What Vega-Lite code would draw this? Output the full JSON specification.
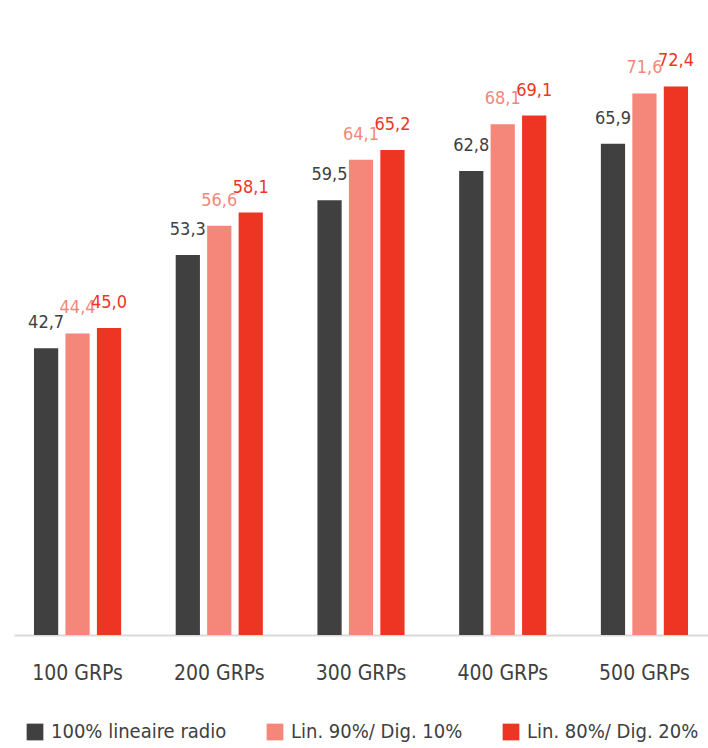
{
  "$schema": "https://vega.github.io/schema/vega-lite/v6.json",
  "width": 694,
  "height": 635,
  "padding": {"left": 14, "top": 0, "right": 0, "bottom": 0},
  "autosize": {"type": "pad"},
  "config": {
    "view": {"stroke": null},
    "font": "DejaVu Sans Condensed",
    "locale": {"number": {"decimal": ",", "thousands": ".", "grouping": [3], "currency": ["€", ""]}}
  },
  "data": {
    "values": [
      {"group": "100 GRPs", "series": "100% lineaire radio", "value": 42.7},
      {"group": "100 GRPs", "series": "Lin. 90%/ Dig. 10%", "value": 44.4},
      {"group": "100 GRPs", "series": "Lin. 80%/ Dig. 20%", "value": 45.0},
      {"group": "200 GRPs", "series": "100% lineaire radio", "value": 53.3},
      {"group": "200 GRPs", "series": "Lin. 90%/ Dig. 10%", "value": 56.6},
      {"group": "200 GRPs", "series": "Lin. 80%/ Dig. 20%", "value": 58.1},
      {"group": "300 GRPs", "series": "100% lineaire radio", "value": 59.5},
      {"group": "300 GRPs", "series": "Lin. 90%/ Dig. 10%", "value": 64.1},
      {"group": "300 GRPs", "series": "Lin. 80%/ Dig. 20%", "value": 65.2},
      {"group": "400 GRPs", "series": "100% lineaire radio", "value": 62.8},
      {"group": "400 GRPs", "series": "Lin. 90%/ Dig. 10%", "value": 68.1},
      {"group": "400 GRPs", "series": "Lin. 80%/ Dig. 20%", "value": 69.1},
      {"group": "500 GRPs", "series": "100% lineaire radio", "value": 65.9},
      {"group": "500 GRPs", "series": "Lin. 90%/ Dig. 10%", "value": 71.6},
      {"group": "500 GRPs", "series": "Lin. 80%/ Dig. 20%", "value": 72.4}
    ]
  },
  "encoding": {
    "x": {
      "field": "group", "type": "nominal", "sort": null,
      "scale": {"paddingInner": 0.385, "paddingOuter": 0.141},
      "axis": {"title": null, "ticks": false, "labelAngle": 0, "labelFontSize": 21, "labelColor": "#404040", "labelPadding": 27, "domainColor": "#d9d9d9", "domainWidth": 2, "labelFont": "DejaVu Sans Condensed"}
    },
    "xOffset": {"field": "series", "type": "nominal", "sort": null, "scale": {"paddingInner": 0.23, "paddingOuter": 0}},
    "y": {"field": "value", "type": "quantitative", "scale": {"domain": [10.2, 82.2], "zero": false, "nice": false}, "axis": null}
  },
  "layer": [
    {
      "mark": {"type": "bar"},
      "encoding": {
        "y2": {"datum": 10.2},
        "color": {
          "field": "series", "type": "nominal", "sort": null,
          "scale": {"domain": ["100% lineaire radio", "Lin. 90%/ Dig. 10%", "Lin. 80%/ Dig. 20%"], "range": ["#404040", "#F4877A", "#EE3524"]},
          "legend": {
            "title": null, "orient": "none", "legendX": 11, "legendY": 722, "direction": "horizontal",
            "symbolType": "square", "symbolSize": 280, "symbolStrokeWidth": 0, "symbolOpacity": 1,
            "labelFontSize": 20, "labelColor": "#404040", "labelFont": "DejaVu Sans Condensed", "labelLimit": 0,
            "columnPadding": 38, "labelOffset": 6, "padding": 0
          }
        }
      }
    },
    {
      "mark": {"type": "text", "dy": -20, "baseline": "alphabetic", "fontSize": 18, "font": "DejaVu Sans Condensed"},
      "encoding": {
        "text": {"field": "value", "type": "quantitative", "format": ".1f"},
        "color": {"field": "series", "type": "nominal", "sort": null, "legend": null}
      }
    }
  ]
}
